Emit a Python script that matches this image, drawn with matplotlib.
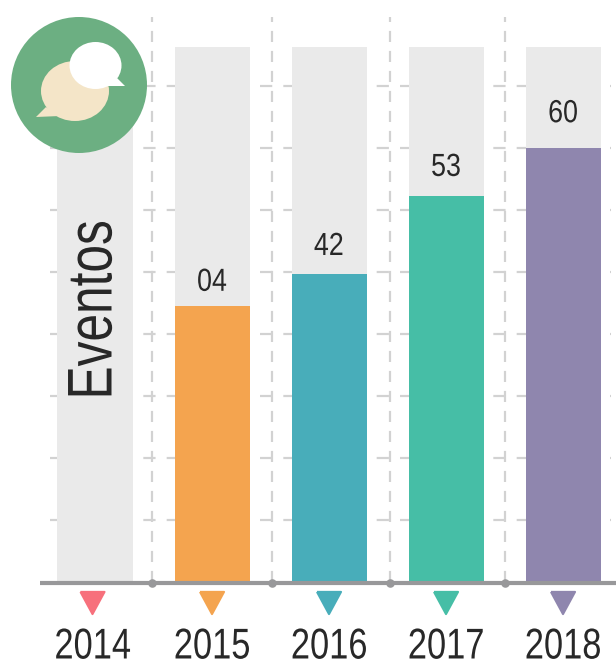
import matplotlib
matplotlib.use("Agg")
import matplotlib.pyplot as plt
from matplotlib.patches import Circle, Ellipse, Polygon
from matplotlib.patheffects import AbstractPathEffect
from matplotlib.transforms import Affine2D

years = ["2014", "2015", "2016", "2017", "2018"]
bar_values = [0, 38.2, 42.6, 53.4, 60]
value_labels = ["", "04", "42", "53", "60"]
track_max = 74

bar_colors = ["#EAEAEA", "#F4A44F", "#48ADBA", "#46BEA6", "#8F86AE"]
marker_colors = ["#F7707C", "#F4A44F", "#48ADBA", "#46BEA6", "#8F86AE"]
TRACK = "#EAEAEA"
GRID = "#D2D2D2"
AXIS = "#98989A"
INK = "#282828"

plt.rcParams["font.family"] = ["Liberation Sans"]

# pixel scale of the original: first bar at x=95, step 117, baseline y=582
W, H = 616, 660
X0, STEP, WIDTH = 95, 117, 75
BASE, PX_PER_UNIT = 582, 7.23


class Condensed(AbstractPathEffect):
    """Squeeze text along its own x direction, keeping it centred."""

    def __init__(self, sx):
        super().__init__()
        self.sx = sx

    def draw_path(self, renderer, gc, tpath, affine, rgbFace=None):
        ext = tpath.get_extents()
        cx = (ext.x0 + ext.x1) / 2
        squeeze = Affine2D().translate(-cx, 0).scale(self.sx, 1).translate(cx, 0)
        renderer.draw_path(gc, tpath, squeeze + affine, rgbFace)


fig = plt.figure(figsize=(W / 100, H / 100), dpi=100)
ax = fig.add_axes([0, 0, 1, 1])
ax.set_xlim(-X0 / STEP, (W - X0) / STEP)
ax.set_ylim((BASE - H) / PX_PER_UNIT, BASE / PX_PER_UNIT)
ax.axis("off")

xs = list(range(len(years)))

# dashed grid
grid_step = 62 / PX_PER_UNIT
for k in range(1, 9):
    ax.plot([(50 - X0) / STEP, (611 - X0) / STEP], [k * grid_step] * 2,
            color=GRID, lw=1.6, dashes=(5.5, 5), zorder=1)
for gx in [0.487, 1.513, 2.52, 3.5]:
    ax.plot([gx, gx], [0, (BASE - 17) / PX_PER_UNIT],
            color=GRID, lw=1.6, dashes=(5, 4), zorder=1)

# bars: grey track with the value on top
ax.bar(xs, [track_max] * len(xs), width=WIDTH / STEP, color=TRACK, zorder=2)
ax.bar(xs, bar_values, width=WIDTH / STEP, color=bar_colors, zorder=3)

label_gaps = [0, 23, 27, 28, 34]
for x, v, lab, gap in zip(xs, bar_values, value_labels, label_gaps):
    if lab:
        ax.text(x, v + gap / PX_PER_UNIT, lab, ha="center", va="center",
                fontsize=23, color=INK, zorder=5,
                path_effects=[Condensed(0.84)])

# baseline with dots under the vertical lines
ax.plot([(40 - X0) / STEP, (W - X0) / STEP], [-1 / PX_PER_UNIT] * 2,
        color=AXIS, lw=3, solid_capstyle="butt", zorder=4)
ax.scatter([0.487, 1.513, 2.52, 3.5], [-1 / PX_PER_UNIT] * 4, s=38,
           color=AXIS, linewidths=0, zorder=4)

# year markers and labels (the first pair sits a little left of its bar)
label_xs = [x - 2.5 / STEP if x == 0 else x for x in xs]
tri = [(-13, 12), (13, 12), (0, -12), (-13, 12)]
ax.scatter(label_xs, [-(603 - BASE) / PX_PER_UNIT] * len(xs), marker=tri, s=300,
           c=marker_colors, edgecolors=marker_colors, linewidths=1.5, zorder=4)
for x, year in zip(label_xs, years):
    ax.text(x, -(658.5 - BASE) / PX_PER_UNIT, year, ha="center", va="baseline",
            fontsize=31, color=INK, path_effects=[Condensed(0.8)])

ax.text(0, (BASE - 310) / PX_PER_UNIT, "Eventos", rotation=90, ha="center",
        va="center", fontsize=45.5, color=INK, zorder=5,
        path_effects=[Condensed(0.785)])

# chat badge, drawn in pixel coordinates
icon = fig.add_axes([0, 0, 1, 1])
icon.set_xlim(0, W)
icon.set_ylim(H, 0)
icon.axis("off")
icon.patch.set_alpha(0)
icon.add_patch(Circle((79, 85), 68, color="#6CAF82", lw=0))
icon.add_patch(Ellipse((75, 91), 68, 60, color="#F4E5C8", lw=0))
icon.add_patch(Polygon([(36, 117), (46, 107), (60, 116)], color="#F4E5C8", lw=0))
icon.add_patch(Ellipse((95.5, 65.5), 52, 47, color="white", lw=0))
icon.add_patch(Polygon([(117, 78), (125, 86), (105, 86)], color="white", lw=0))

fig.savefig("out.png", dpi=100)
